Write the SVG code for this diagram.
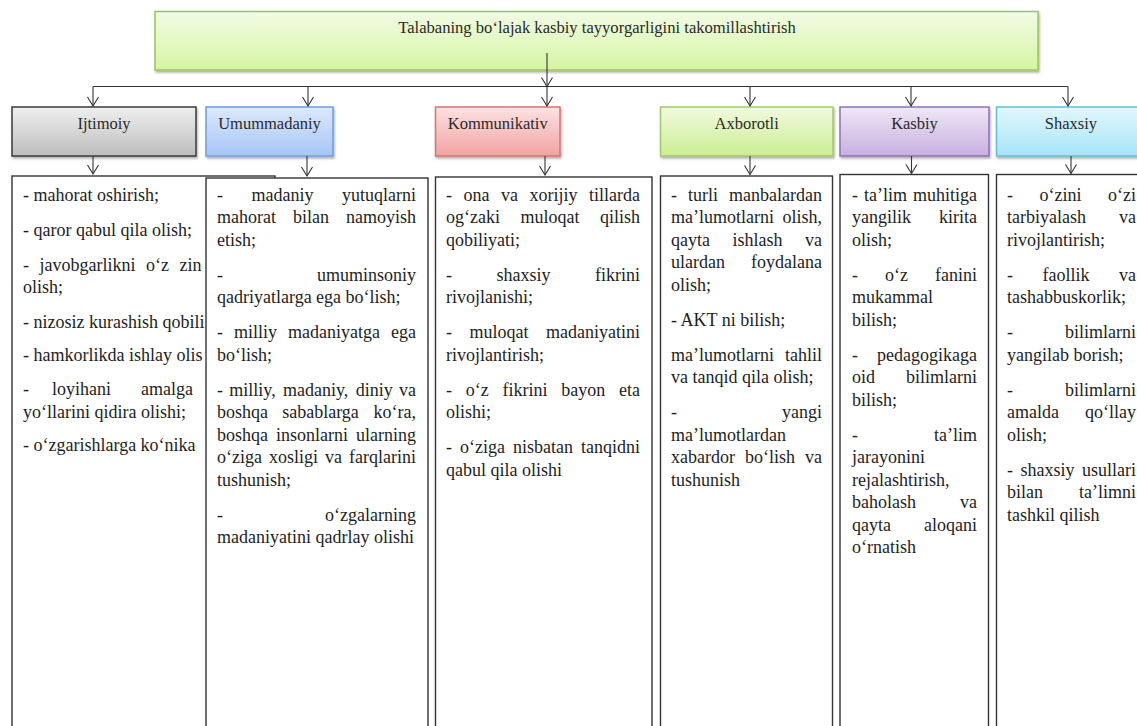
<svg xmlns="http://www.w3.org/2000/svg" width="1137" height="726" viewBox="0 0 1137 726" font-family="Liberation Serif, Tinos, DejaVu Serif, Times New Roman, serif">
<defs>
<style>
text{font-family:'Liberation Serif',Tinos,'DejaVu Serif','Times New Roman',serif}
.t{font-size:18px;fill:#1e1e1e}
.e{text-anchor:end}
.h{font-size:16.5px;fill:#2a2a2a;text-anchor:middle}
.box{fill:#ffffff;stroke:#333333;stroke-width:1.4}
.conn{fill:none;stroke:#333333;stroke-width:1.1}
.hb{stroke-width:1.5}
</style>
<filter id="sh" x="-5%" y="-10%" width="115%" height="140%">
<feDropShadow dx="1" dy="2" stdDeviation="1.2" flood-color="#000" flood-opacity="0.3"/>
</filter>
<linearGradient id="gTop" x1="0" y1="0" x2="0" y2="1"><stop offset="0" stop-color="#f1fbe4"/><stop offset="1" stop-color="#d6f4a2"/></linearGradient>
<linearGradient id="gGray" x1="0" y1="0" x2="0" y2="1"><stop offset="0" stop-color="#efefef"/><stop offset="1" stop-color="#bdbdbd"/></linearGradient>
<linearGradient id="gBlue" x1="0" y1="0" x2="0" y2="1"><stop offset="0" stop-color="#dde9fc"/><stop offset="1" stop-color="#a6c5f6"/></linearGradient>
<linearGradient id="gRed" x1="0" y1="0" x2="0" y2="1"><stop offset="0" stop-color="#fde2e2"/><stop offset="1" stop-color="#f3a2a2"/></linearGradient>
<linearGradient id="gGreen" x1="0" y1="0" x2="0" y2="1"><stop offset="0" stop-color="#f1fadf"/><stop offset="1" stop-color="#cbed92"/></linearGradient>
<linearGradient id="gPurple" x1="0" y1="0" x2="0" y2="1"><stop offset="0" stop-color="#efe8f6"/><stop offset="1" stop-color="#c7aee0"/></linearGradient>
<linearGradient id="gCyan" x1="0" y1="0" x2="0" y2="1"><stop offset="0" stop-color="#e2f7fd"/><stop offset="1" stop-color="#a6e5f8"/></linearGradient>
<marker id="arr" markerWidth="14" markerHeight="14" refX="0" refY="0" orient="auto" markerUnits="userSpaceOnUse" viewBox="-10 -7 12 14" overflow="visible">
<path d="M-9,-5.5 L0,0 L-9,5.5" fill="none" stroke="#333333" stroke-width="1.1"/>
</marker>
</defs>

<g id="node-title">
<rect x="155" y="11.5" width="883" height="58.5" fill="url(#gTop)" stroke="#9cc45c" stroke-width="1.5" filter="url(#sh)"/>
<text class="h" x="597" y="33" style="font-size:16.6px">Talabaning bo‘lajak kasbiy tayyorgarligini takomillashtirish</text>
</g>

<g id="node-ijtimoiy">
<rect x="12" y="107" width="184" height="49" fill="url(#gGray)" stroke="#3a3a3a" class="hb" filter="url(#sh)"/>
<text class="h" x="104" y="128.5">Ijtimoiy</text>
</g>
<g id="node-umummadaniy">
<rect x="206" y="107" width="127" height="49" fill="url(#gBlue)" stroke="#6d9de0" class="hb" filter="url(#sh)"/>
<text class="h" x="269.5" y="128.5">Umummadaniy</text>
</g>
<g id="node-kommunikativ">
<rect x="435.5" y="107" width="124.5" height="49" fill="url(#gRed)" stroke="#d77470" class="hb" filter="url(#sh)"/>
<text class="h" x="497.7" y="128.5">Kommunikativ</text>
</g>
<g id="node-axborotli">
<rect x="660.5" y="107" width="172.5" height="49" fill="url(#gGreen)" stroke="#a2c86a" class="hb" filter="url(#sh)"/>
<text class="h" x="746.7" y="128.5">Axborotli</text>
</g>
<g id="node-kasbiy">
<rect x="840" y="107" width="149" height="49" fill="url(#gPurple)" stroke="#8e71b4" class="hb" filter="url(#sh)"/>
<text class="h" x="914.5" y="128.5">Kasbiy</text>
</g>
<g id="node-shaxsiy">
<rect x="996.5" y="107" width="149" height="49" fill="url(#gCyan)" stroke="#62c0da" class="hb" filter="url(#sh)"/>
<text class="h" x="1071" y="128.5">Shaxsiy</text>
</g>

<g id="node-ijtimoiy-list">
<rect class="box" x="12" y="176" width="263" height="570"/>
<text class="t" x="23" y="200.5">- mahorat oshirish;</text>
<text class="t" x="23" y="235.5">- qaror qabul qila olish;</text>
<text class="t" x="23" y="270.5" word-spacing="6">- javobgarlikni o‘z zin</text>
<text class="t" x="23" y="293">olish;</text>
<text class="t" x="23" y="327.5">- nizosiz kurashish qobili</text>
<text class="t" x="23" y="361">- hamkorlikda ishlay olis</text>
<text class="t" y="395"><tspan x="23">-</tspan><tspan x="52">loyihani</tspan><tspan x="141">amalga</tspan></text>
<text class="t" x="23" y="417.5">yo‘llarini qidira olishi;</text>
<text class="t" x="23" y="451">- o‘zgarishlarga ko‘nika</text>
</g>

<g id="node-umummadaniy-list">
<rect class="box" x="206" y="178" width="222" height="570"/>
<text class="t" y="200.5"><tspan x="217">-</tspan><tspan x="251.5">madaniy</tspan></text><text class="t e" x="416" y="200.5">yutuqlarni</text>
<text class="t" y="223"><tspan x="217">mahorat</tspan><tspan x="293">bilan</tspan></text><text class="t e" x="416" y="223">namoyish</text>
<text class="t" x="217" y="245.5">etish;</text>
<text class="t" x="217" y="280.5">-</text><text class="t e" x="416" y="280.5">umuminsoniy</text>
<text class="t" x="217" y="303">qadriyatlarga ega bo‘lish;</text>
<text class="t" y="338"><tspan x="217">-</tspan><tspan x="234">milliy</tspan><tspan x="288">madaniyatga</tspan></text><text class="t e" x="416" y="338">ega</text>
<text class="t" x="217" y="360.5">bo‘lish;</text>
<text class="t" y="395.5"><tspan x="217">-</tspan><tspan x="229.3">milliy,</tspan><tspan x="283">madaniy,</tspan><tspan x="355.7">diniy</tspan></text><text class="t e" x="416" y="395.5">va</text>
<text class="t" y="418"><tspan x="217">boshqa</tspan><tspan x="282.2">sabablarga</tspan></text><text class="t e" x="416" y="418">ko‘ra,</text>
<text class="t" y="440.5"><tspan x="217">boshqa</tspan><tspan x="276">insonlarni</tspan></text><text class="t e" x="416" y="440.5">ularning</text>
<text class="t" y="463"><tspan x="217">o‘ziga</tspan><tspan x="269">xosligi</tspan><tspan x="325">va</tspan></text><text class="t e" x="416" y="463">farqlarini</text>
<text class="t" x="217" y="485.5">tushunish;</text>
<text class="t" x="217" y="520.5">-</text><text class="t e" x="416" y="520.5">o‘zgalarning</text>
<text class="t" x="217" y="543">madaniyatini qadrlay olishi</text>
</g>

<g id="node-kommunikativ-list">
<rect class="box" x="435.5" y="177" width="216.5" height="570"/>
<text class="t" y="200.5"><tspan x="446">-</tspan><tspan x="463.5">ona</tspan><tspan x="501">va</tspan><tspan x="529.5">xorijiy</tspan></text><text class="t e" x="640" y="200.5">tillarda</text>
<text class="t" y="223"><tspan x="446">og‘zaki</tspan><tspan x="520.5">muloqat</tspan></text><text class="t e" x="640" y="223">qilish</text>
<text class="t" x="446" y="245.5">qobiliyati;</text>
<text class="t" y="280.5"><tspan x="446">-</tspan><tspan x="496.5">shaxsiy</tspan></text><text class="t e" x="640" y="280.5">fikrini</text>
<text class="t" x="446" y="303">rivojlanishi;</text>
<text class="t" y="338"><tspan x="446">-</tspan><tspan x="469.5">muloqat</tspan></text><text class="t e" x="640" y="338">madaniyatini</text>
<text class="t" x="446" y="360.5">rivojlantirish;</text>
<text class="t" y="395.5"><tspan x="446">-</tspan><tspan x="465.7">o‘z</tspan><tspan x="502.5">fikrini</tspan><tspan x="561.2">bayon</tspan></text><text class="t e" x="640" y="395.5">eta</text>
<text class="t" x="446" y="418">olishi;</text>
<text class="t" y="453"><tspan x="446">-</tspan><tspan x="460">o‘ziga</tspan><tspan x="513">nisbatan</tspan></text><text class="t e" x="640" y="453">tanqidni</text>
<text class="t" x="446" y="475.5">qabul qila olishi</text>
</g>

<g id="node-axborotli-list">
<rect class="box" x="660.5" y="176" width="172" height="570"/>
<text class="t" y="200.5"><tspan x="671">-</tspan><tspan x="688">turli</tspan></text><text class="t e" x="822" y="200.5">manbalardan</text>
<text class="t" x="671" y="223">ma’lumotlarni</text><text class="t e" x="822" y="223">olish,</text>
<text class="t" y="245.5"><tspan x="671">qayta</tspan><tspan x="732.5">ishlash</tspan></text><text class="t e" x="822" y="245.5">va</text>
<text class="t" x="671" y="268">ulardan</text><text class="t e" x="822" y="268">foydalana</text>
<text class="t" x="671" y="290.5">olish;</text>
<text class="t" x="671" y="325.5">- AKT ni bilish;</text>
<text class="t" x="671" y="360.5">ma’lumotlarni</text><text class="t e" x="822" y="360.5">tahlil</text>
<text class="t" x="671" y="383">va tanqid qila olish;</text>
<text class="t" x="671" y="418">-</text><text class="t e" x="822" y="418">yangi</text>
<text class="t" x="671" y="440.5">ma’lumotlardan</text>
<text class="t" y="463"><tspan x="671">xabardor</tspan><tspan x="745">bo‘lish</tspan></text><text class="t e" x="822" y="463">va</text>
<text class="t" x="671" y="485.5">tushunish</text>
</g>

<g id="node-kasbiy-list">
<rect class="box" x="840" y="174.5" width="148.5" height="570"/>
<text class="t" y="200.5"><tspan x="852">-</tspan><tspan x="864">ta’lim</tspan></text><text class="t e" x="977" y="200.5">muhitiga</text>
<text class="t" x="852" y="223">yangilik</text><text class="t e" x="977" y="223">kirita</text>
<text class="t" x="852" y="245.5">olish;</text>
<text class="t" y="280.5"><tspan x="852">-</tspan><tspan x="885">o‘z</tspan></text><text class="t e" x="977" y="280.5">fanini</text>
<text class="t" x="852" y="303">mukammal</text>
<text class="t" x="852" y="325.5">bilish;</text>
<text class="t" x="852" y="360.5">-</text><text class="t e" x="977" y="360.5">pedagogikaga</text>
<text class="t" x="852" y="383">oid</text><text class="t e" x="977" y="383">bilimlarni</text>
<text class="t" x="852" y="405.5">bilish;</text>
<text class="t" x="852" y="440.5">-</text><text class="t e" x="977" y="440.5">ta’lim</text>
<text class="t" x="852" y="463">jarayonini</text>
<text class="t" x="852" y="485.5">rejalashtirish,</text>
<text class="t" x="852" y="508">baholash</text><text class="t e" x="977" y="508">va</text>
<text class="t" x="852" y="530.5">qayta</text><text class="t e" x="977" y="530.5">aloqani</text>
<text class="t" x="852" y="553">o‘rnatish</text>
</g>

<g id="node-shaxsiy-list">
<rect class="box" x="996.5" y="174.5" width="150" height="570"/>
<text class="t" y="200.5"><tspan x="1007">-</tspan><tspan x="1039.5">o‘zini</tspan></text><text class="t e" x="1136" y="200.5">o‘zi</text>
<text class="t" x="1007" y="223">tarbiyalash</text><text class="t e" x="1136" y="223">va</text>
<text class="t" x="1007" y="245.5">rivojlantirish;</text>
<text class="t" y="280.5"><tspan x="1007">-</tspan><tspan x="1042.5">faollik</tspan></text><text class="t e" x="1136" y="280.5">va</text>
<text class="t" x="1007" y="303">tashabbuskorlik;</text>
<text class="t" x="1007" y="338">-</text><text class="t e" x="1136" y="338">bilimlarni</text>
<text class="t" x="1007" y="360.5">yangilab borish;</text>
<text class="t" x="1007" y="395.5">-</text><text class="t e" x="1136" y="395.5">bilimlarni</text>
<text class="t" x="1007" y="418">amalda</text><text class="t e" x="1136" y="418">qo‘llay</text>
<text class="t" x="1007" y="440.5">olish;</text>
<text class="t" y="475.5"><tspan x="1007">-</tspan><tspan x="1020.5">shaxsiy</tspan></text><text class="t e" x="1136" y="475.5">usullari</text>
<text class="t" x="1007" y="498">bilan</text><text class="t e" x="1136" y="498">ta’limni</text>
<text class="t" x="1007" y="520.5">tashkil qilish</text>
</g>

<g id="connectors">
<path class="conn" d="M547,53 L547,86.5" marker-end="url(#arr)"/>
<path class="conn" d="M93,86.5 L1068,86.5"/>
<path class="conn" d="M93,86.5 L93,106" marker-end="url(#arr)"/>
<path class="conn" d="M308,86.5 L308,106" marker-end="url(#arr)"/>
<path class="conn" d="M547,86.5 L547,106" marker-end="url(#arr)"/>
<path class="conn" d="M750,86.5 L750,106" marker-end="url(#arr)"/>
<path class="conn" d="M911,86.5 L911,106" marker-end="url(#arr)"/>
<path class="conn" d="M1068,86.5 L1068,106" marker-end="url(#arr)"/>
<path class="conn" d="M93,156 L93,174" marker-end="url(#arr)"/>
<path class="conn" d="M307,156 L307,176" marker-end="url(#arr)"/>
<path class="conn" d="M545,156 L545,175" marker-end="url(#arr)"/>
<path class="conn" d="M750,156 L750,174.5" marker-end="url(#arr)"/>
<path class="conn" d="M911.5,156 L911.5,173.5" marker-end="url(#arr)"/>
<path class="conn" d="M1071,156 L1071,173.5" marker-end="url(#arr)"/>
</g>
</svg>
